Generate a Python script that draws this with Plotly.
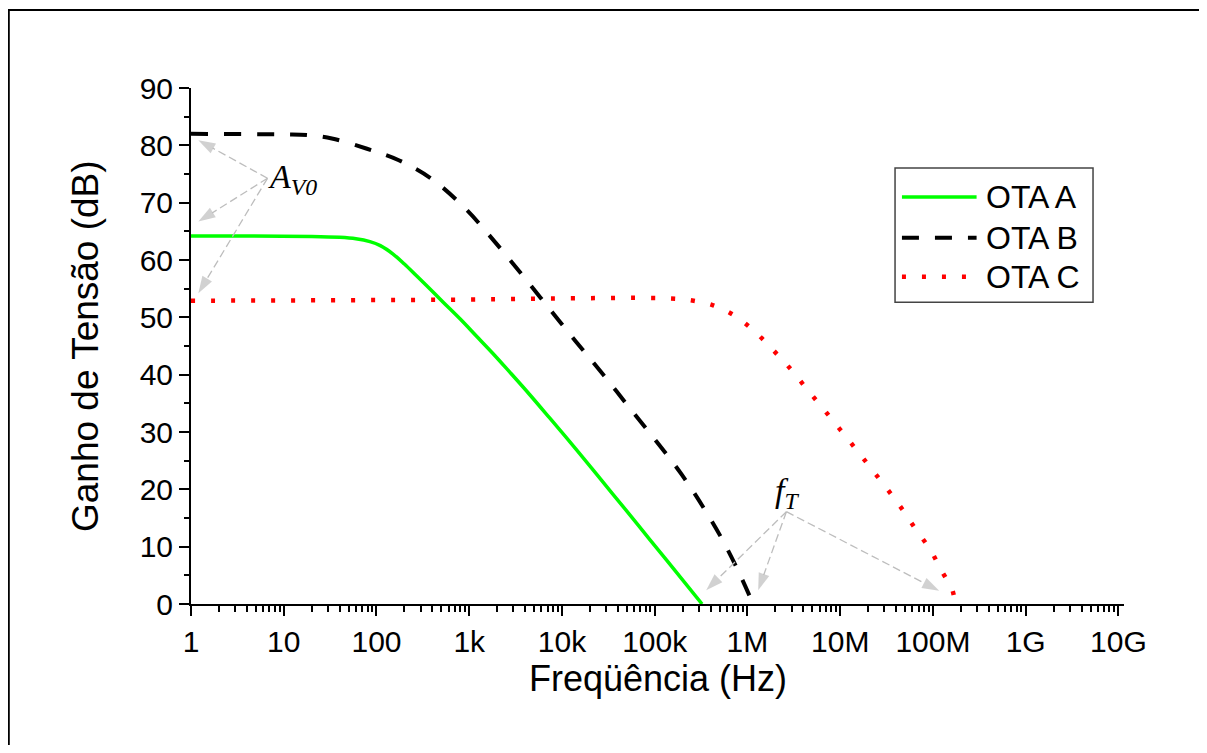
import plotly.graph_objects as go

# Curve data (frequency in Hz, gain in dB)
freq_a = [1, 20, 40, 60, 85, 110, 152, 200, 272, 380, 527, 800, 1200, 1800,
          2750, 4500, 7400, 14000, 25700, 50000, 89000, 170000, 324000]
gain_a = [64.2, 64.1, 63.95, 63.7, 63.2, 62.5, 61.0, 59.3, 57.2, 54.9, 52.6, 49.7,
          46.7, 43.7, 40.4, 36.5, 32.4, 27.1, 21.9, 16.2, 11.2, 5.6, 0.0]

freq_b = [1, 10, 18, 33, 79, 174, 389, 891, 1860, 3720, 7240, 14100, 27500,
          54300, 105000, 195000, 339000, 550000, 832000, 1150000]
gain_b = [82.0, 81.9, 81.8, 81.2, 79.4, 77.4, 74.2, 69.1, 63.3, 57.4, 51.6, 45.8, 40.1,
          34.1, 28.3, 22.6, 16.7, 10.9, 5.1, 0.0]

freq_c = [1, 1000, 10000, 148000, 263000, 427000, 708000, 1148000, 1862000, 2951000,
          4365000, 6607000, 1.0e7, 1.479e7, 2.188e7, 3.236e7, 4.677e7, 6.607e7,
          9.333e7, 1.23e8, 1.622e8, 1.7e8]
gain_c = [52.9, 53.1, 53.3, 53.3, 52.9, 52.1, 50.4, 47.8, 44.4, 40.9,
          37.5, 34.0, 30.4, 27.0, 23.5, 20.0, 16.5, 12.9,
          9.5, 5.9, 2.4, 0.8]

series_names = ["OTA A", "OTA B", "OTA C"]

tick_vals = [10 ** k for k in range(11)]
tick_text = ["1", "10", "100", "1k", "10k", "100k", "1M", "10M", "100M", "1G", "10G"]

# pointer arrows: tail (Hz, dB) and tips [(Hz, dB), ...]
avo_tail = (6.68, 74.25)
avo_tips = [(1.2, 80.9), (1.2, 66.7), (1.2, 54.2)]
ft_tail = (2.63e6, 16.1)
ft_tips = [(3.59e5, 2.4), (1.306e6, 2.4), (1.167e8, 2.3)]

# layout geometry: page body adds an 8px margin, so the figure is kept
# small enough that the page never overflows the window
W, H = 1191, 737
ML, MR, MT, MB = 183, 75, 80, 141

FONT = "Arial, Liberation Sans, sans-serif"
SERIF = "Times New Roman, Liberation Serif, serif"
GREEN, BLACK, RED, GREY = "#00ff00", "#000000", "#ff0000", "#bdbdbd"
DASH_B = "17px,16px"
DASH_C = "4px,16px"

fig = go.Figure()
fig.add_trace(go.Scatter(x=freq_a, y=gain_a, mode="lines", name=series_names[0],
                         line=dict(color=GREEN, width=3.5, shape="spline")))
fig.add_trace(go.Scatter(x=freq_b, y=gain_b, mode="lines", name=series_names[1],
                         line=dict(color=BLACK, width=4, dash=DASH_B, shape="spline")))
fig.add_trace(go.Scatter(x=freq_c, y=gain_c, mode="lines", name=series_names[2],
                         line=dict(color=RED, width=4.5, dash=DASH_C, shape="spline")))

# dashed grey pointers with arrow heads
for tail, tips in [(avo_tail, avo_tips), (ft_tail, ft_tips)]:
    for tip in tips:
        fig.add_trace(go.Scatter(
            x=[tail[0], tip[0]], y=[tail[1], tip[1]], mode="lines+markers",
            line=dict(color=GREY, width=1.3, dash="8px,4px"),
            marker=dict(symbol=["circle", "arrow"], size=[0, 18], color=GREY,
                        angleref="previous", line=dict(width=0)),
            hoverinfo="skip"))

shapes = []
annotations = []

# outer frame (right and bottom edges fall outside the picture)
shapes.append(dict(type="rect", xref="paper", yref="paper", x0=-0.1953, x1=1.5,
                   y0=-0.6, y1=1.1512, line=dict(color="black", width=2)))

# hand-made legend
shapes.append(dict(type="rect", xref="paper", yref="paper", x0=0.7546, x1=0.9668,
                   y0=0.585, y1=0.845, line=dict(color="#444444", width=1.5),
                   fillcolor="white", layer="above"))
leg_y = [0.789, 0.710, 0.634]
leg_style = [dict(color=GREEN, width=3.5), dict(color=BLACK, width=4, dash=DASH_B),
             dict(color=RED, width=4.5, dash=DASH_C)]
for name, ly, st in zip(series_names, leg_y, leg_style):
    shapes.append(dict(type="line", xref="paper", yref="paper", x0=0.762, x1=0.842,
                       y0=ly, y1=ly, line=st, layer="above"))
    annotations.append(dict(xref="paper", yref="paper", x=0.850, y=ly, text=name,
                            showarrow=False, xanchor="left", yanchor="middle",
                            font=dict(family=FONT, size=32, color="black")))

annotations.append(dict(x=0.81, y=74.1, xref="x", yref="y", showarrow=False,
                        text="<i>A<sub>V0</sub></i>", xanchor="left", yanchor="middle",
                        font=dict(family=SERIF, size=34, color="black")))
annotations.append(dict(x=6.28, y=19.4, xref="x", yref="y", showarrow=False,
                        text="<i>f<sub>T</sub></i>", xanchor="left", yanchor="middle",
                        font=dict(family=SERIF, size=34, color="black")))

# axis titles
annotations.append(dict(xref="paper", yref="paper", x=0.5, y=-0.145,
                        text="Freqüência (Hz)", showarrow=False,
                        xanchor="center", yanchor="middle",
                        font=dict(family=FONT, size=36, color="black")))
annotations.append(dict(xref="paper", yref="paper", x=-0.1136, y=0.5,
                        text="Ganho de Tensão (dB)", showarrow=False, textangle=-90,
                        xanchor="center", yanchor="middle",
                        font=dict(family=FONT, size=37, color="black")))

minor_vals = [m * 10 ** k for k in range(10) for m in range(2, 10)]

fig.update_layout(
    width=W, height=H,
    margin=dict(l=ML, r=MR, t=MT, b=MB),
    paper_bgcolor="white", plot_bgcolor="white",
    showlegend=False,
    shapes=shapes, annotations=annotations,
    font=dict(family=FONT, size=30, color="black"),
    xaxis=dict(type="log", range=[0, 10.06], tickvals=tick_vals, ticktext=tick_text,
               ticks="outside", ticklen=10, tickwidth=2, tickcolor="black",
               showline=True, linecolor="black", linewidth=2, showgrid=False,
               zeroline=False,
               minor=dict(tickvals=minor_vals, ticks="outside", ticklen=6,
                          tickwidth=1.5, tickcolor="black", showgrid=False),
               tickfont=dict(family=FONT, size=30, color="black")),
    yaxis=dict(range=[0, 90], dtick=10, tick0=0,
               ticks="outside", ticklen=10, tickwidth=2, tickcolor="black",
               showline=True, linecolor="black", linewidth=2, showgrid=False,
               zeroline=False,
               minor=dict(dtick=5, ticks="outside", ticklen=5, tickwidth=1.5,
                          tickcolor="black", showgrid=False),
               tickfont=dict(family=FONT, size=30, color="black")),
)

fig.write_html("out.html")
